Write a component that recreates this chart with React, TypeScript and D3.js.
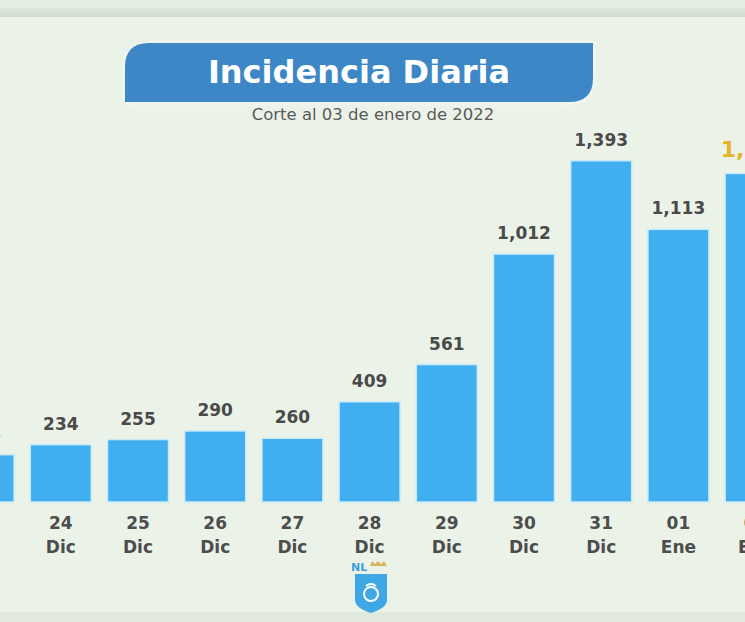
import React from 'react';
import * as d3 from 'd3';

// daily incidence, 23 Dic 2021 - 02 Ene 2022
const days = ['23', '24', '25', '26', '27', '28', '29', '30', '31', '01', '02'];
const months = ['Dic', 'Dic', 'Dic', 'Dic', 'Dic', 'Dic', 'Dic', 'Dic', 'Dic', 'Ene', 'Ene'];
const cases = [193, 234, 255, 290, 260, 409, 561, 1012, 1393, 1113, 1341];

const title = 'Incidencia Diaria';
const subtitle = 'Corte al 03 de enero de 2022';

const W = 745;
const H = 622;
const baseY = 502;
const font = "'DejaVu Sans', 'Open Sans', sans-serif";

const App = () => {
    const keys = days.map((d, i) => d + ' ' + months[i]);
    const xScale = d3.scaleBand<string>()
        .domain(keys)
        .range([-55, -55 + 11 * 77.2])
        .paddingInner(0.21)
        .paddingOuter(0.105);
    const yScale = d3.scaleLinear().domain([0, 1400]).range([baseY, baseY - 343]);
    const fmt = d3.format(',');
    const last = cases.length - 1;

    // banner: rounded top-left and bottom-right corners
    const bx0 = 125, bx1 = 593, by0 = 43, by1 = 102, r = 24;
    const banner = d3.path();
    banner.moveTo(bx0, by1);
    banner.lineTo(bx0, by0 + r);
    banner.quadraticCurveTo(bx0, by0, bx0 + r, by0);
    banner.lineTo(bx1, by0);
    banner.lineTo(bx1, by1 - r);
    banner.quadraticCurveTo(bx1, by1, bx1 - r, by1);
    banner.closePath();

    // shield logo
    const shield = d3.path();
    shield.moveTo(355, 574);
    shield.lineTo(387, 574);
    shield.lineTo(387, 600);
    shield.quadraticCurveTo(387, 608, 371, 613);
    shield.quadraticCurveTo(355, 608, 355, 600);
    shield.closePath();

    return (
        <svg width={W} height={H} style={{ position: 'absolute', left: 0, top: 0 }} fontFamily={font}>
            <defs>
                <linearGradient id="topband" x1="0" y1="0" x2="0" y2="1">
                    <stop offset="0" stopColor="#dde7d9" />
                    <stop offset="1" stopColor="#d3ddcf" />
                </linearGradient>
                <filter id="glow" x="-20%" y="-50%" width="140%" height="200%">
                    <feGaussianBlur stdDeviation="2" />
                </filter>
            </defs>
            <rect width={W} height={H} fill="#ebf3e9" />
            <rect width={W} height={8} fill="#e6efe3" />
            <rect y={8} width={W} height={9} fill="url(#topband)" />
            <rect y={612} width={W} height={10} fill="#e2eadf" />

            {/* title banner */}
            <path d={banner.toString()} fill="#f6f8fb" filter="url(#glow)" transform="translate(0,1)" />
            <path d={banner.toString()} fill="#3d87c7" />
            <text x={359} y={83} textAnchor="middle" fill="#ffffff" fontSize={32} fontWeight={700}>{title}</text>
            <text x={373} y={120} textAnchor="middle" fill="#5a5a5a" fontSize={16.5}>{subtitle}</text>

            {/* bars */}
            {cases.map((v, i) => (
                <rect key={keys[i]}
                    x={xScale(keys[i])}
                    y={yScale(v)}
                    width={xScale.bandwidth()}
                    height={baseY - yScale(v)}
                    fill="#41aef0"
                    stroke="#c8ebfa"
                    strokeWidth={1.5} />
            ))}

            {/* value labels */}
            {cases.map((v, i) => (
                <text key={'v' + keys[i]}
                    x={(xScale(keys[i]) as number) + xScale.bandwidth() / 2}
                    y={yScale(v) - (i === last ? 16 : 15)}
                    textAnchor="middle"
                    fill={i === last ? '#e6b526' : '#4a4a4a'}
                    fontSize={i === last ? 22 : 17}
                    fontWeight={700}>{fmt(v)}</text>
            ))}

            {/* x axis labels */}
            {keys.map((k, i) => {
                const cx = (xScale(k) as number) + xScale.bandwidth() / 2;
                return (
                    <g key={'x' + k} fill="#4d4d4d" fontSize={17} fontWeight={700} textAnchor="middle">
                        <text x={cx} y={529}>{days[i]}</text>
                        <text x={cx} y={553}>{months[i]}</text>
                    </g>
                );
            })}

            {/* logo */}
            <text x={351} y={571} fill="#3a9fe0" fontSize={11} fontWeight={700}>NL</text>
            <path d="M370 566 L372 561 L375 564 L378 561 L381 564 L384 561 L387 566 Z" fill="#d9b35a" />
            <path d={shield.toString()} fill="#3fa7e6" />
            <circle cx={371} cy={594} r={7} fill="none" stroke="#ffffff" strokeWidth={2} />
            <path d="M366 586 Q371 582 376 586" fill="none" stroke="#ffffff" strokeWidth={2} />
        </svg>
    );
};

export default App;
